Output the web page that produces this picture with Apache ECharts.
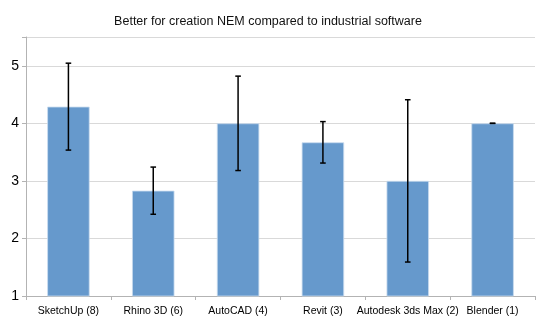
<!DOCTYPE html>
<html><head><meta charset="utf-8">
<script src="https://cdn.jsdelivr.net/npm/echarts@6/dist/echarts.min.js"></script>
<style>html,body{margin:0;padding:0;background:#fff}#c{width:536px;height:318px}</style>
</head><body><div id="c"></div>
<script>
const categories = ["SketchUp (8)", "Rhino 3D (6)", "AutoCAD (4)", "Revit (3)", "Autodesk 3ds Max (2)", "Blender (1)"];
const means = [4.29, 2.83, 4.0, 3.67, 3.0, 4.0];
const errors = [0.755, 0.41, 0.82, 0.36, 1.41, 0.0];
const yTicks = [1, 2, 3, 4, 5];

const errData = means.map((m, i) => [i, m - errors[i], m + errors[i]]);
const font = "Liberation Sans, Arial, sans-serif";
const chart = echarts.init(document.getElementById('c'), null, {renderer: 'canvas'});
chart.setOption({
  animation: false,
  title: {text: "Better for creation NEM compared to industrial software", left: 'center', top: 10,
    textStyle: {fontFamily: font, fontSize: 12.5, fontWeight: 'normal', color: '#111'}},
  grid: {left: 26, right: 1, top: 37, bottom: 22, containLabel: false},
  xAxis: {type: 'category', data: categories,
    axisLine: {lineStyle: {color: '#b3b3b3'}},
    axisTick: {show: true, alignWithLabel: false, length: 4, lineStyle: {color: '#b3b3b3'}},
    axisLabel: {fontFamily: font, fontSize: 10.5, color: '#000', margin: 10, interval: 0}},
  yAxis: {type: 'value', min: 1, max: 5.5, interval: 1,
    axisLine: {show: true, lineStyle: {color: '#b3b3b3'}},
    axisTick: {show: true, length: 4, lineStyle: {color: '#b3b3b3'}},
    splitLine: {show: true, lineStyle: {color: '#d9d9d9'}},
    axisLabel: {fontFamily: font, fontSize: 14, color: '#000', margin: 7,
      formatter: v => yTicks.includes(v) ? String(v) : ''}},
  series: [
    {type: 'bar', data: means, barWidth: '50%',
     itemStyle: {color: '#6699cc', borderColor: '#c9dcef', borderWidth: 0.8}},
    {type: 'custom', data: errData, z: 10,
     renderItem: function (params, api) {
       const i = api.value(0);
       const lo = api.coord([i, api.value(1)]);
       const hi = api.coord([i, api.value(2)]);
       const w = 2.8;
       const st = {stroke: '#000', lineWidth: 1.5};
       return {type: 'group', children: [
         {type: 'line', shape: {x1: lo[0], y1: lo[1], x2: hi[0], y2: hi[1]}, style: st},
         {type: 'line', shape: {x1: lo[0]-w, y1: lo[1], x2: lo[0]+w, y2: lo[1]}, style: st},
         {type: 'line', shape: {x1: hi[0]-w, y1: hi[1], x2: hi[0]+w, y2: hi[1]}, style: st}
       ]};
     }}
  ]
});
</script></body></html>
